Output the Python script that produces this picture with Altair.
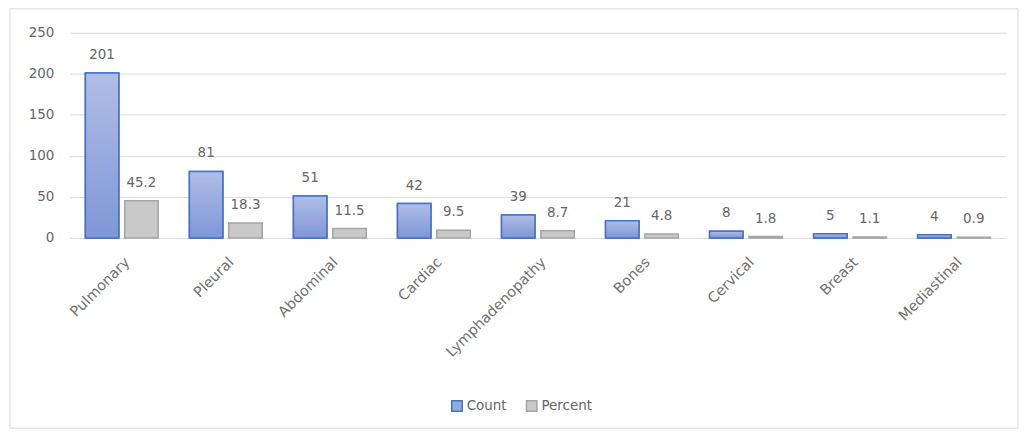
import altair as alt
import pandas as pd

categories = ["Pulmonary", "Pleural", "Abdominal", "Cardiac", "Lymphadenopathy",
              "Bones", "Cervical", "Breast", "Mediastinal"]
count_values = [201, 81, 51, 42, 28, 21, 8, 5, 4]
count_labels = ["201", "81", "51", "42", "39", "21", "8", "5", "4"]
percent_values = [45.2, 18.3, 11.5, 9.5, 8.7, 4.8, 1.8, 1.1, 0.9]
percent_labels = ["45.2", "18.3", "11.5", "9.5", "8.7", "4.8", "1.8", "1.1", "0.9"]
series = ["Count", "Percent"]
y_ticks = [0, 50, 100, 150, 200, 250]

rows = []
for c, v, l in zip(categories, count_values, count_labels):
    rows.append({"cat": c, "series": "Count", "value": v, "label": l})
for c, v, l in zip(categories, percent_values, percent_labels):
    rows.append({"cat": c, "series": "Percent", "value": v, "label": l})
df = pd.DataFrame(rows)

FONT = "DejaVu Sans"
TXT = "#666666"

x_enc = alt.X("cat:N", sort=categories, title=None,
              scale=alt.Scale(paddingInner=0.3, paddingOuter=0.15),
              axis=alt.Axis(labelAngle=-45, labelAlign="right", labelBaseline="middle",
                            ticks=False, domain=False, labelColor="#707070", labelFontSize=14.5,
                            labelFont=FONT, labelPadding=22, labelOffset=6, labelOverlap=False))
xo_enc = alt.XOffset("series:N", scale=alt.Scale(domain=series, paddingInner=0.15, paddingOuter=0))
y_enc = alt.Y("value:Q", title=None,
              scale=alt.Scale(domain=[0, 250], nice=False),
              axis=alt.Axis(values=y_ticks, ticks=False, domain=False, labelColor=TXT,
                            labelFontSize=13.5, labelFont=FONT, labelPadding=16,
                            gridColor="#d9d9d9", gridWidth=1))

base = alt.Chart(df)

bars = base.mark_bar(strokeWidth=1.5).encode(
    x=x_enc, xOffset=xo_enc, y=y_enc,
    fill=alt.Fill("series:N", title=None,
                  scale=alt.Scale(domain=series, range=["#93a8de", "#c9c9c9"]),
                  legend=alt.Legend(orient="none", legendX=382, legendY=368, direction="horizontal",
                                    symbolType="square", symbolSize=110, labelFontSize=13.5,
                                    labelColor=TXT, labelFont=FONT, columnPadding=16,
                                    symbolStrokeWidth=1.5, labelOffset=3)),
    stroke=alt.Stroke("series:N", title=None,
                      scale=alt.Scale(domain=series, range=["#4472c4", "#a5a5a5"])),
)

gradient = {"gradient": "linear", "x1": 0, "y1": 0, "x2": 0, "y2": 1,
            "stops": [{"offset": 0, "color": "#b0bee6"}, {"offset": 1, "color": "#7f96d8"}]}

grad_bars = base.transform_filter(alt.datum.series == "Count").mark_bar(
    fill=gradient, stroke="#4472c4", strokeWidth=1.5
).encode(x=x_enc, xOffset=xo_enc, y=y_enc)

labels = base.mark_text(baseline="bottom", dy=-11, fontSize=13.5, font=FONT, color=TXT).encode(
    x=x_enc, xOffset=xo_enc, y=y_enc, text="label:N"
)

border = alt.Chart(alt.Data(values=[{}])).mark_rect(
    fill=None, stroke="#d9d9d9", strokeWidth=1
).encode(x=alt.value(-60), x2=alt.value(952), y=alt.value(-24), y2=alt.value(397))

chart = alt.layer(border, bars, grad_bars, labels).properties(
    width=940, height=206,
    autosize=alt.AutoSizeParams(type="none"),
    padding={"left": 62, "top": 24, "right": 20, "bottom": 192},
    background="white",
).configure_view(stroke=None)

chart.save("out.html", embed_options={"renderer": "svg", "actions": False})
